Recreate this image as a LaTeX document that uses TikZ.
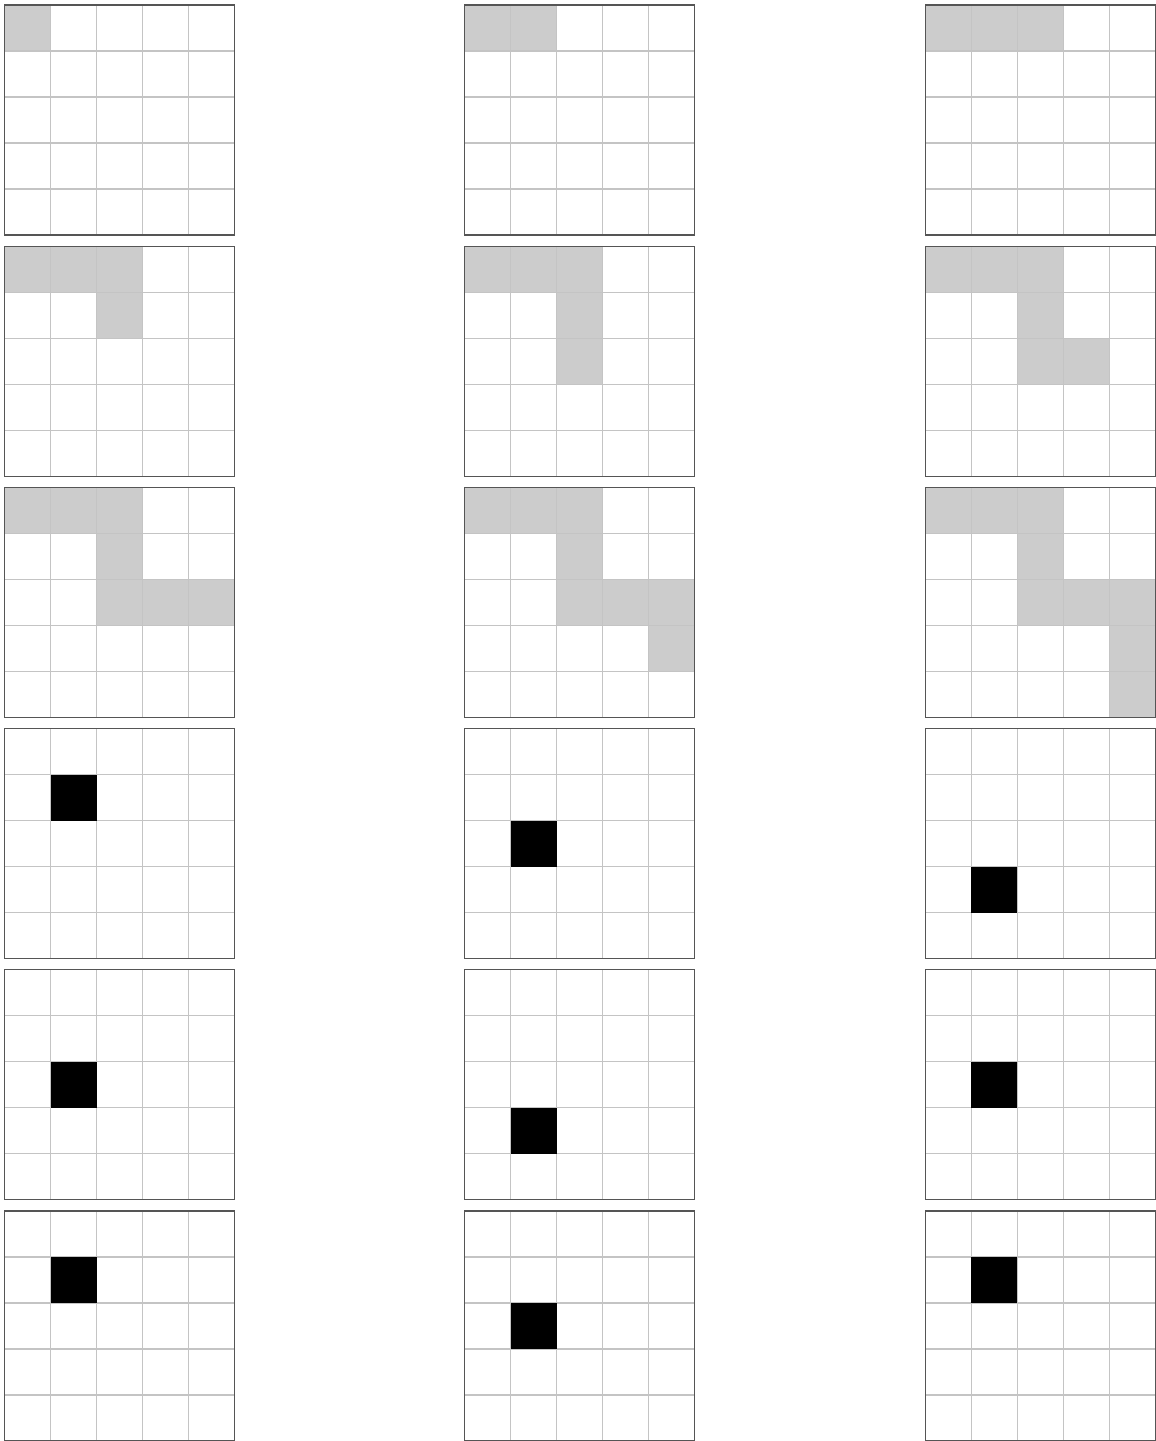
\documentclass[tikz,border=0pt]{standalone}
\definecolor{cellgray}{HTML}{CCCCCC}
\definecolor{linegray}{HTML}{C4C4C4}
\definecolor{framegray}{HTML}{555555}
\newcommand\gcl[2]{\fill[cellgray] (#2*46,#1*46) rectangle ++(46,46);}
\newcommand\bcl[2]{\fill[black] (#2*46,#1*46) rectangle ++(46,46);}
\newcommand\pnl[4]{%
\begin{scope}[shift={(#1,#2)}]
#3
\foreach \i in {1,...,4}{\draw[gridline] (\i*46,0) -- (\i*46,230); \draw[gridline] (0,\i*46) -- (230,\i*46);}
#4
\draw[frameline] (0,0) rectangle (230,230);
\end{scope}}
\begin{document}
\begin{tikzpicture}[x=1pt,y=-1pt,
  gridline/.style={draw=linegray,line width=1.3pt},
  frameline/.style={draw=framegray,line width=1.3pt}]
\useasboundingbox (0,0) rectangle (1156,1441);
\def\xa{4.5}\def\xb{464.8}\def\xc{925.2}
\def\ya{5}\def\yb{246.2}\def\yc{487.4}\def\yd{728.6}\def\ye{969.8}\def\yf{1211}
% row 1
\pnl{\xa}{\ya}{\gcl00}{}
\pnl{\xb}{\ya}{\gcl00\gcl01}{}
\pnl{\xc}{\ya}{\gcl00\gcl01\gcl02}{}
% row 2
\pnl{\xa}{\yb}{\gcl00\gcl01\gcl02\gcl12}{}
\pnl{\xb}{\yb}{\gcl00\gcl01\gcl02\gcl12\gcl22}{}
\pnl{\xc}{\yb}{\gcl00\gcl01\gcl02\gcl12\gcl22\gcl23}{}
% row 3
\pnl{\xa}{\yc}{\gcl00\gcl01\gcl02\gcl12\gcl22\gcl23\gcl24}{}
\pnl{\xb}{\yc}{\gcl00\gcl01\gcl02\gcl12\gcl22\gcl23\gcl24\gcl34}{}
\pnl{\xc}{\yc}{\gcl00\gcl01\gcl02\gcl12\gcl22\gcl23\gcl24\gcl34\gcl44}{}
% row 4
\pnl{\xa}{\yd}{}{\bcl11}
\pnl{\xb}{\yd}{}{\bcl21}
\pnl{\xc}{\yd}{}{\bcl31}
% row 5
\pnl{\xa}{\ye}{}{\bcl21}
\pnl{\xb}{\ye}{}{\bcl31}
\pnl{\xc}{\ye}{}{\bcl21}
% row 6
\pnl{\xa}{\yf}{}{\bcl11}
\pnl{\xb}{\yf}{}{\bcl21}
\pnl{\xc}{\yf}{}{\bcl11}
\end{tikzpicture}
\end{document}
